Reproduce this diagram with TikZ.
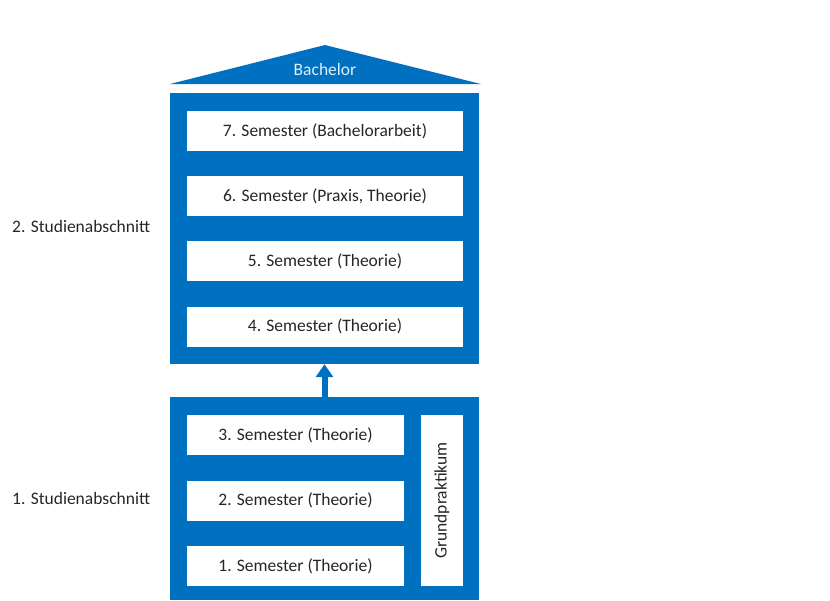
\documentclass[tikz,border=0pt]{standalone}
\usepackage{fontspec}
\setmainfont{Carlito}
\definecolor{mBlue}{RGB}{0,112,192}
\definecolor{mText}{RGB}{38,38,38}
\usepackage{tikz}
\usetikzlibrary{arrows.meta,positioning,calc}

\begin{document}
\begin{tikzpicture}[x=1pt,y=-1pt,
    block/.style={fill=mBlue, inner sep=0pt},
    sem/.style={fill=white, text=mText, inner sep=0pt, minimum height=40pt, font=\fontsize{17.5}{19}\selectfont},
    lbl/.style={text=mText, anchor=west, inner sep=0pt, font=\fontsize{17.5}{19}\selectfont}]
    \useasboundingbox (0,0) rectangle (830,600);
    % roof
    \fill[mBlue] (170,84) -- (325,45) -- (481,84) -- cycle;
    \node[text=white!88!mBlue, font=\fontsize{17.5}{19}\selectfont] (roof) at (325,69) {Bachelor};
    % upper part
    \node[block, minimum width=309pt, minimum height=271pt] (upper) at (324.5,228.5) {};
    \node[sem, minimum width=276pt] (s7) at (325,131) {7. Semester (Bachelorarbeit)};
    \node[sem, minimum width=276pt] (s6) at (325,196) {6. Semester (Praxis, Theorie)};
    \node[sem, minimum width=276pt] (s5) at (325,261) {5. Semester (Theorie)};
    \node[sem, minimum width=276pt] (s4) at (325,326.5) {4. Semester (Theorie)};
    % lower part
    \node[block, minimum width=309pt, minimum height=203pt] (lower) at (324.5,498.5) {};
    \node[sem, minimum width=217pt] (s3) at (295.5,435) {3. Semester (Theorie)};
    \node[sem, minimum width=217pt] (s2) at (295.5,500.5) {2. Semester (Theorie)};
    \node[sem, minimum width=217pt] (s1) at (295.5,566) {1. Semester (Theorie)};
    \node[sem, minimum width=42pt, minimum height=171pt] (gp) at (442,500.5) {};
    \node[text=mText, rotate=90, font=\fontsize{17.5}{19}\selectfont] (gptext) at (gp.center) {Grundpraktikum};
    % arrow
    \draw[mBlue, line width=6pt, -{Triangle[width=17pt,length=13pt]}] (lower.north) -- (upper.south);
    % labels
    \node[lbl] (a2) at (12,226) {2. Studienabschnitt};
    \node[lbl] (a1) at (12,498) {1. Studienabschnitt};
\end{tikzpicture}
\end{document}
